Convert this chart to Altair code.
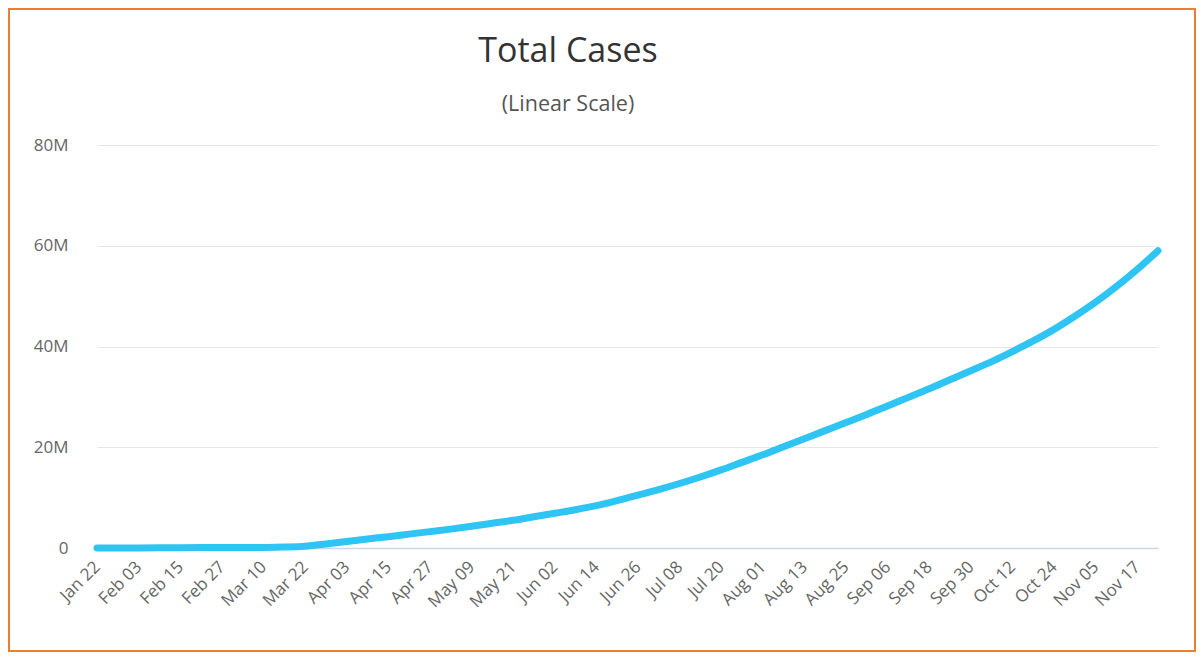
import altair as alt
import pandas as pd

# Dates (every 6 days) and total cases in millions
dates = [
    "2020-01-22", "2020-01-28", "2020-02-03", "2020-02-09", "2020-02-15", "2020-02-21",
    "2020-02-27", "2020-03-04", "2020-03-10", "2020-03-16", "2020-03-22", "2020-03-28",
    "2020-04-03", "2020-04-09", "2020-04-15", "2020-04-21", "2020-04-27", "2020-05-03",
    "2020-05-09", "2020-05-15", "2020-05-21", "2020-05-27", "2020-06-02", "2020-06-08",
    "2020-06-14", "2020-06-20", "2020-06-26", "2020-07-02", "2020-07-08", "2020-07-14",
    "2020-07-20", "2020-07-26", "2020-08-01", "2020-08-07", "2020-08-13", "2020-08-19",
    "2020-08-25", "2020-08-31", "2020-09-06", "2020-09-12", "2020-09-18", "2020-09-24",
    "2020-09-30", "2020-10-06", "2020-10-12", "2020-10-18", "2020-10-24", "2020-10-30",
    "2020-11-05", "2020-11-11", "2020-11-17", "2020-11-23",
]
cases_m = [
    0.0006, 0.006, 0.02, 0.04, 0.069, 0.077,
    0.084, 0.095, 0.12, 0.19, 0.36, 0.8,
    1.3, 1.8, 2.25, 2.75, 3.25, 3.75,
    4.3, 4.9, 5.5, 6.2, 6.9, 7.6,
    8.4, 9.4, 10.5, 11.6, 12.8, 14.1,
    15.5, 17.0, 18.5, 20.1, 21.7, 23.3,
    24.9, 26.5, 28.2, 29.9, 31.6, 33.4,
    35.2, 37.0, 39.0, 41.1, 43.4, 46.0,
    48.8, 51.9, 55.3, 59.0,
]

tick_dates = [
    (1, 22), (2, 3), (2, 15), (2, 27), (3, 10), (3, 22), (4, 3), (4, 15), (4, 27),
    (5, 9), (5, 21), (6, 2), (6, 14), (6, 26), (7, 8), (7, 20), (8, 1), (8, 13),
    (8, 25), (9, 6), (9, 18), (9, 30), (10, 12), (10, 24), (11, 5), (11, 17),
]
y_ticks = [0, 20_000_000, 40_000_000, 60_000_000, 80_000_000]

title_text = "Total Cases"
subtitle_text = "(Linear Scale)"

df = pd.DataFrame({
    "date": [d + "T00:00:00" for d in dates],
    "cases": [v * 1_000_000 for v in cases_m],
})

W, H = 1061, 403
FONT = "Open Sans"

line = alt.Chart(df).mark_line(
    color="#2ec5f5", strokeWidth=7, strokeCap="round", strokeJoin="round",
    interpolate="monotone",
).encode(
    x=alt.X(
        "date:T",
        scale=alt.Scale(domain=[{"year": 2020, "month": 1, "date": 22},
                                {"year": 2020, "month": 11, "date": 23}]),
        axis=alt.Axis(
            title=None,
            values=[alt.DateTime(year=2020, month=m, date=d) for m, d in tick_dates],
            format="%b %d",
            labelAngle=-45,
            labelAlign="right",
            labelBaseline="middle",
            labelPadding=16,
            labelFontSize=17,
            labelFont=FONT,
            labelColor="#666666",
            labelOverlap=False,
            ticks=False,
            grid=False,
            domainColor="#ccd6eb",
            domainWidth=1.5,
        ),
    ),
    y=alt.Y(
        "cases:Q",
        scale=alt.Scale(domain=[0, 80_000_000], nice=False),
        axis=alt.Axis(
            title=None,
            values=y_ticks,
            labelExpr="datum.value == 0 ? '0' : format(datum.value / 1000000, 'd') + 'M'",
            labelFontSize=17,
            labelFont=FONT,
            labelColor="#666666",
            labelPadding=29,
            ticks=False,
            domain=False,
            gridColor="#e6e6e6",
            gridWidth=1,
        ),
    ),
)

one = pd.DataFrame({"a": [0]})

border = alt.Chart(one).mark_rect(
    fill=None, stroke="#ed7d31", strokeWidth=2
).encode(
    x=alt.value(-88), x2=alt.value(1098),
    y=alt.value(-136), y2=alt.value(506),
)

title = alt.Chart(one).mark_text(
    text=title_text, font=FONT, fontSize=34, color="#333333",
    align="center", baseline="alphabetic",
).encode(x=alt.value(471), y=alt.value(-83))

subtitle = alt.Chart(one).mark_text(
    text=subtitle_text, font=FONT, fontSize=21.5, color="#555555",
    align="center", baseline="alphabetic",
).encode(x=alt.value(471), y=alt.value(-34))

chart = alt.layer(border, line, title, subtitle).properties(
    width=W, height=H, padding=0, background="white",
).configure_view(stroke=None)

chart.save("out.html", embed_options={"renderer": "svg", "actions": False})
